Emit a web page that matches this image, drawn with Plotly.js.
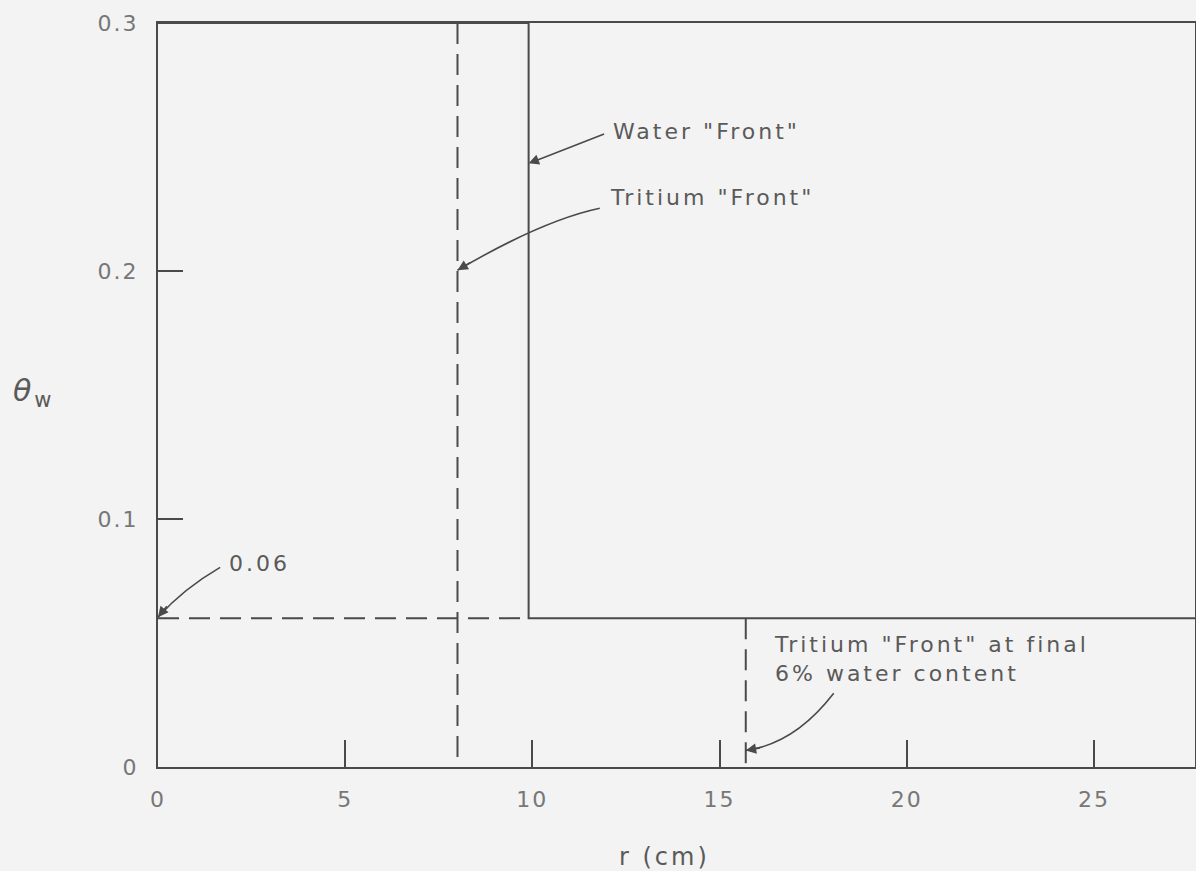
<!DOCTYPE html>
<html>
<head>
<meta charset="utf-8">
<script src="https://cdn.plot.ly/plotly-3.0.1.min.js"></script>
<style>
  html, body { margin: 0; padding: 0; background: #f3f3f3; }
  #chart { width: 1196px; height: 871px; }
  /* open, drafted lettering */
  #chart .annotation-text { letter-spacing: 3px; }
  #chart .xtick text, #chart .ytick text { letter-spacing: 2px; }
</style>
</head>
<body>
<div id="chart"></div>
<script>
// Water content profile (step) and tracer front positions, r in cm
const waterR = [0, 9.9, 9.9, 30];
const waterTheta = [0.3, 0.3, 0.06, 0.06];

const tritiumR = [8, 8];
const tritiumTheta = [0.3, 0];

const finalLevelR = [0, 9.9];
const finalLevelTheta = [0.06, 0.06];

const tritiumFinalR = [15.7, 15.7];
const tritiumFinalTheta = [0.06, 0];

const xTicks = [0, 5, 10, 15, 20, 25];
const xTickLabels = ['0', '5', '10', '15', '20', '25'];
const yTicks = [0, 0.1, 0.2, 0.3];
const yTickLabels = ['0', '0.1', '0.2', '0.3'];

const ink = '#4a4a4a';
const textInk = '#5a5a5a';
const font = 'DejaVu Sans, sans-serif';

const lineSolid = { color: ink, width: 2 };
const lineDash = { color: ink, width: 2, dash: '21px,10px' };

const traces = [
  { x: waterR, y: waterTheta, mode: 'lines', line: lineSolid, hoverinfo: 'skip' },
  { x: tritiumR, y: tritiumTheta, mode: 'lines', line: lineDash, hoverinfo: 'skip' },
  { x: finalLevelR, y: finalLevelTheta, mode: 'lines', line: lineDash, hoverinfo: 'skip' },
  { x: tritiumFinalR, y: tritiumFinalTheta, mode: 'lines', line: lineDash, hoverinfo: 'skip' }
];

// curved leader lines (quadratic paths in data units)
function curve(p0, c, p1) {
  return {
    type: 'path', xref: 'x', yref: 'y',
    path: `M ${p0[0]},${p0[1]} Q ${c[0]},${c[1]} ${p1[0]},${p1[1]}`,
    line: { color: ink, width: 1.6 }
  };
}

const shapes = [
  curve([11.8, 0.2253], [10.27, 0.2204], [8.0, 0.2003]),
  curve([1.66, 0.0805], [0.68, 0.0719], [0.0, 0.0604]),
  curve([18.05, 0.0297], [17.0, 0.0092], [15.7, 0.0067])
];

function head(x, y, ax, ay) {
  return {
    x: x, y: y, xref: 'x', yref: 'y', text: '', showarrow: true,
    ax: ax, ay: ay, arrowhead: 2, arrowsize: 1.3, arrowwidth: 1.6,
    arrowcolor: ink, standoff: 0
  };
}

function label(x, y, text) {
  return {
    x: x, y: y, xref: 'x', yref: 'y', text: text, showarrow: false,
    xanchor: 'left', yanchor: 'middle', align: 'left',
    font: { family: font, size: 22, color: textInk }
  };
}

const annotations = [
  // Water front arrow (straight)
  head(9.9, 0.2434, 77, -30),
  // arrow heads at the ends of the curved leaders
  head(8.0, 0.2003, 14, -8.5),
  head(0.0, 0.0604, 10, -12.5),
  head(15.7, 0.0067, 15.8, -2.8),
  label(12.1, 0.2563, 'Water "Front"'),
  label(12.02, 0.2297, 'Tritium "Front"'),
  label(1.84, 0.0821, '0.06'),
  label(16.4, 0.0434, 'Tritium "Front" at final<br>6% water content'),
  // axis titles
  {
    xref: 'paper', yref: 'paper', x: -0.139, y: 0.504,
    text: '<i>θ</i><sub>w</sub>', showarrow: false,
    xanchor: 'left', yanchor: 'middle',
    font: { family: font, size: 30, color: textInk }
  },
  {
    xref: 'paper', yref: 'paper', x: 0.488, y: -0.121,
    text: 'r (cm)', showarrow: false,
    xanchor: 'center', yanchor: 'middle',
    font: { family: font, size: 24, color: textInk }
  }
];

const layout = {
  width: 1196, height: 871,
  margin: { l: 158, r: 1, t: 23, b: 104 },
  paper_bgcolor: '#f3f3f3',
  plot_bgcolor: '#f3f3f3',
  showlegend: false,
  xaxis: {
    range: [0, 27.7], showgrid: false, zeroline: false,
    showline: true, mirror: true, linecolor: ink, linewidth: 2,
    ticks: 'inside', ticklen: 27, tickwidth: 2, tickcolor: ink,
    tickvals: xTicks, ticktext: xTickLabels, ticklabelstandoff: 12,
    tickfont: { family: font, size: 22, color: '#777' }
  },
  yaxis: {
    range: [0, 0.3], showgrid: false, zeroline: false,
    showline: true, mirror: true, linecolor: ink, linewidth: 2,
    ticks: 'inside', ticklen: 25, tickwidth: 2, tickcolor: ink,
    tickvals: yTicks, ticktext: yTickLabels, ticklabelstandoff: 13,
    tickfont: { family: font, size: 22, color: '#777' }
  },
  shapes: shapes,
  annotations: annotations
};

Plotly.newPlot('chart', traces, layout, { staticPlot: true });
</script>
</body>
</html>
